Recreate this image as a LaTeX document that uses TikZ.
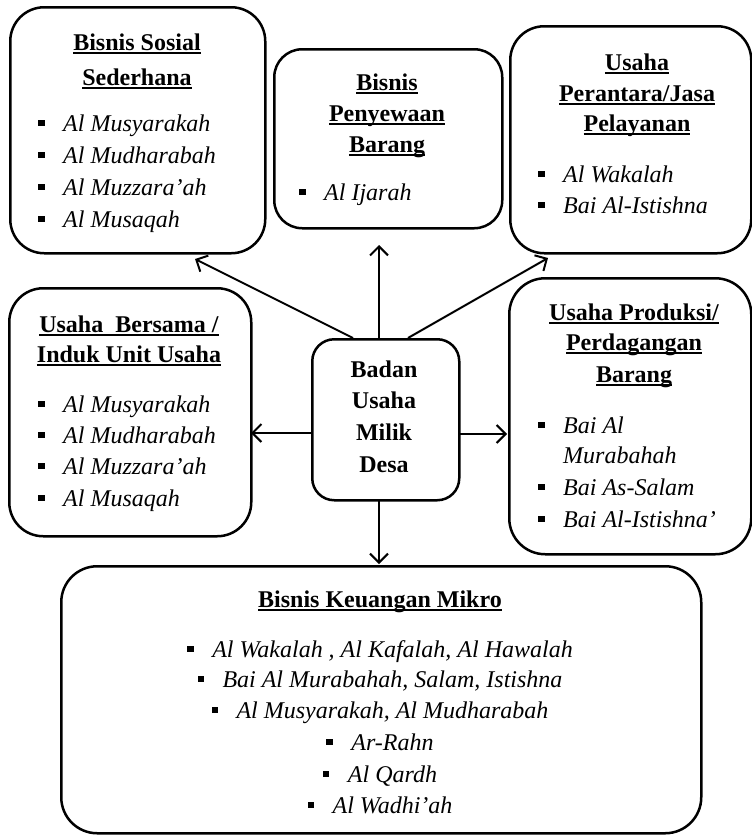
\documentclass[tikz,border=0pt]{standalone}
\usepackage{fontspec}
\setmainfont{Liberation Serif}
\usetikzlibrary{arrows.meta,calc}
\newcommand{\ulx}[1]{\setbox0\hbox{#1}\rlap{\rule[-3.5pt]{\wd0}{1.6pt}}\box0}
\newcommand{\bul}{\makebox[25pt][l]{\raisebox{5pt}{\rule{6.5pt}{6.5pt}}}}
\begin{document}
\begin{tikzpicture}[x=1pt,y=-1pt,
  box/.style={draw,line width=2.5pt,rounded corners=#1,inner sep=0pt,anchor=north west},
  tit/.style={inner sep=0pt,anchor=base,font=\fontsize{24}{28}\selectfont\bfseries},
  itm/.style={inner sep=0pt,anchor=base west,font=\fontsize{24}{28}\selectfont\itshape},
  citm/.style={inner sep=0pt,anchor=base,font=\fontsize{24}{28}\selectfont\itshape},
  arr/.style={line width=2pt,-{Straight Barb[length=9pt,width=18pt]}}]
\useasboundingbox (0,0) rectangle (752,835);

% boxes
\node[box=34pt,minimum width=255pt,minimum height=246pt] (b1) at (9,6) {};
\node[box=28pt,minimum width=228pt,minimum height=179pt] (b2) at (273,48) {};
\node[box=34pt,minimum width=241pt,minimum height=227pt] (b3) at (509,25) {};
\node[box=34pt,minimum width=242pt,minimum height=248pt] (b4) at (8,287) {};
\node[box=22pt,minimum width=147pt,minimum height=161pt] (c) at (311,338) {};
\node[box=36pt,minimum width=242pt,minimum height=276pt] (b5) at (508,277) {};
\node[box=36pt,minimum width=640pt,minimum height=267pt] (b6) at (60,565) {};

% box 1
\node[tit] (t1a) at (137,50) {\ulx{Bisnis Sosial}};
\node[tit] (t1b) at (137,85) {\ulx{Sederhana}};
\node[itm] (i1a) at (38,131) {\bul Al Musyarakah};
\node[itm] (i1b) at (38,163) {\bul Al Mudharabah};
\node[itm] (i1c) at (38,195) {\bul Al Muzzara’ah};
\node[itm] (i1d) at (38,227) {\bul Al Musaqah};

% box 2
\node[tit] (t2a) at (387,90) {\ulx{Bisnis}};
\node[tit] (t2b) at (387,121) {\ulx{Penyewaan}};
\node[tit] (t2c) at (387,152) {\ulx{Barang}};
\node[itm] (i2a) at (299,200) {\bul Al Ijarah};

% box 3
\node[tit] (t3a) at (637,70) {\ulx{Usaha}};
\node[tit] (t3b) at (637,101) {\ulx{Perantara/Jasa}};
\node[tit] (t3c) at (637,131) {\ulx{Pelayanan}};
\node[itm] (i3a) at (538,182) {\bul Al Wakalah};
\node[itm] (i3b) at (538,213) {\bul Bai Al-Istishna};

% box 4
\node[tit] (t4a) at (129,332) {\ulx{Usaha\ \ Bersama /}};
\node[tit] (t4b) at (129,362) {\ulx{Induk Unit Usaha}};
\node[itm] (i4a) at (38,412) {\bul Al Musyarakah};
\node[itm] (i4b) at (38,443) {\bul Al Mudharabah};
\node[itm] (i4c) at (38,474) {\bul Al Muzzara’ah};
\node[itm] (i4d) at (38,506) {\bul Al Musaqah};

% central
\node[tit] (ca) at (384,377) {Badan};
\node[tit] (cb) at (384,408) {Usaha};
\node[tit] (cc) at (384,440) {Milik};
\node[tit] (cd) at (384,472) {Desa};

% box 5
\node[tit] (t5a) at (634,320) {\ulx{Usaha Produksi/}};
\node[tit] (t5b) at (634,350) {\ulx{Perdagangan}};
\node[tit] (t5c) at (634,382) {\ulx{Barang}};
\node[itm] (i5a) at (538,433) {\bul Bai Al};
\node[itm] (i5b) at (563,463) {Murabahah};
\node[itm] (i5c) at (538,495) {\bul Bai As-Salam};
\node[itm] (i5d) at (538,527) {\bul Bai Al-Istishna’};

% box 6
\node[tit] (t6) at (380,607) {\ulx{Bisnis Keuangan Mikro}};
\node[citm] (i6a) at (380,657) {\bul Al Wakalah , Al Kafalah, Al Hawalah};
\node[citm] (i6b) at (380,687) {\bul Bai Al Murabahah, Salam, Istishna};
\node[citm] (i6c) at (380,718) {\bul Al Musyarakah, Al Mudharabah};
\node[citm] (i6d) at (380,750) {\bul Ar-Rahn};
\node[citm] (i6e) at (380,782) {\bul Al Qardh};
\node[citm] (i6f) at (380,813) {\bul Al Wadhi’ah};

% connector end points
\coordinate (s1) at (353,338);
\coordinate (e1) at (195,259);
\coordinate (s2) at (379,338);
\coordinate (e2) at (379,245);
\coordinate (s3) at (408,338);
\coordinate (e3) at (548,258);
\coordinate (s4) at (311,433);
\coordinate (e4) at (251,433);
\coordinate (s5) at (458,434);
\coordinate (e5) at (507,434);
\coordinate (s6) at (379,499);
\coordinate (e6) at (379,564);

\draw[arr] (s1) -- (e1);
\draw[arr] (s2) -- (e2);
\draw[arr] (s3) -- (e3);
\draw[arr] (s4) -- (e4);
\draw[arr] (s5) -- (e5);
\draw[arr] (s6) -- (e6);
\end{tikzpicture}
\end{document}
